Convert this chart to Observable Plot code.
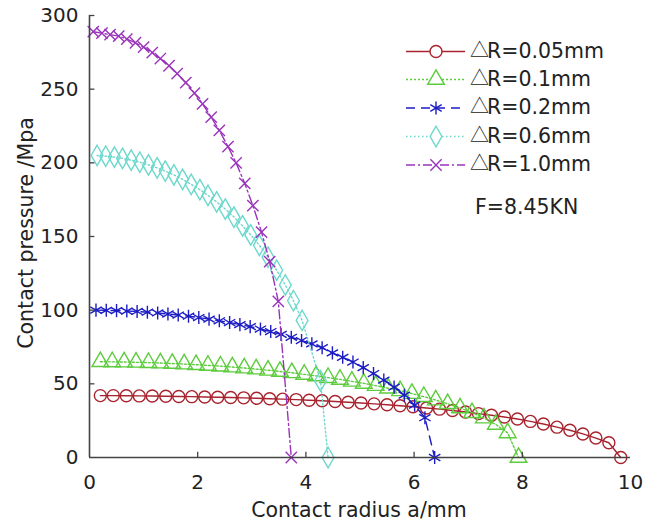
<!DOCTYPE html>
<html><head><meta charset="utf-8">
<script src="https://cdn.jsdelivr.net/npm/d3@7"></script>
<script src="https://cdn.jsdelivr.net/npm/@observablehq/plot@0.6"></script>
<style>body{margin:0;background:#fff} svg{font-family:"DejaVu Sans",sans-serif}</style>
</head><body><div id="chart"></div>
<script>
// ---- data ----
const seriesLabels = ["△R=0.05mm","△R=0.1mm","△R=0.2mm","△R=0.6mm","△R=1.0mm"];
const x005 = [0.20,0.44,0.68,0.92,1.16,1.41,1.65,1.89,2.13,2.37,2.61,2.85,3.09,3.33,3.57,3.82,4.06,4.30,4.54,4.78,5.02,5.26,5.50,5.74,5.98,6.23,6.47,6.71,6.95,7.19,7.43,7.67,7.91,8.15,8.39,8.64,8.88,9.12,9.36,9.60,9.82];
const y005 = [42.0,42.0,41.9,41.8,41.7,41.6,41.4,41.3,41.1,40.9,40.7,40.5,40.2,39.9,39.6,39.3,38.9,38.5,38.0,37.5,37.0,36.4,35.8,35.1,34.4,33.6,32.8,31.9,30.9,29.8,28.7,27.5,26.1,24.5,22.7,20.6,18.5,16.0,13.2,10.0,0];
const x01 = [0.20,0.42,0.64,0.86,1.09,1.31,1.53,1.75,1.97,2.19,2.42,2.64,2.86,3.08,3.30,3.52,3.74,3.97,4.19,4.41,4.63,4.85,5.07,5.29,5.52,5.74,5.96,6.18,6.40,6.62,6.85,7.07,7.29,7.51,7.73,7.93];
const y01 = [65.0,64.9,64.8,64.6,64.4,64.1,63.8,63.4,63.0,62.5,62.0,61.4,60.7,60.0,59.2,58.4,57.5,56.4,55.4,54.2,53.0,51.7,50.3,48.8,47.0,45.3,43.4,41.3,39.0,36.5,33.6,30.4,26.8,22.4,16.7,0];
const x02 = [0.12,0.31,0.50,0.69,0.88,1.07,1.26,1.45,1.64,1.83,2.02,2.21,2.40,2.59,2.78,2.97,3.16,3.35,3.54,3.73,3.92,4.11,4.30,4.49,4.68,4.87,5.06,5.25,5.44,5.63,5.82,6.01,6.20,6.38];
const y02 = [100.0,99.9,99.7,99.4,99.1,98.6,98.1,97.4,96.7,95.9,95.0,93.9,92.8,91.6,90.2,88.8,87.2,85.5,83.6,81.6,79.4,77.1,74.5,71.0,68.0,64.8,61.0,57.0,52.5,47.8,42.3,35.5,27.0,0];
const x06 = [0.14,0.30,0.46,0.61,0.77,0.93,1.09,1.25,1.40,1.56,1.72,1.88,2.04,2.19,2.35,2.51,2.67,2.83,2.98,3.14,3.30,3.46,3.62,3.77,3.93,4.27,4.41];
const y06 = [205.0,204.5,203.9,203.0,201.8,200.4,198.6,196.6,194.4,191.8,188.8,185.4,181.8,177.9,173.5,168.6,163.2,157.2,151.1,144.0,136.0,127.1,117.1,106.4,93.0,52.0,0];
const x10 = [0.07,0.23,0.38,0.54,0.69,0.85,1.00,1.16,1.31,1.47,1.62,1.78,1.94,2.09,2.25,2.40,2.56,2.71,2.87,3.02,3.18,3.33,3.49,3.73];
const y10 = [289,288,287,286,284,281.5,278.5,274.8,270.8,265.9,260.6,254.4,247.3,240,231,222,211,200,186,171,153,133,106,0];
const xTicks = [0,2,4,6,8,10];
const yTicks = [0,50,100,150,200,250,300];
const xTitle = "Contact radius a/mm";
const yTitle = "Contact pressure /Mpa";
const note = "F=8.45KN";

// ---- styles ----
const colors  = ["#a8232e","#5ccc3c","#1c1cc4","#6cd8cc","#9a33bb"];
const symbols = ["circle","triangle","asterisk","diamond","times"];
const dashes  = [null,"2,2","9,6","1.5,2.5","9,3,2,3"];
const radii   = [6,6.2,6.2,6.2,5.2];
const xsAll = [x005,x01,x02,x06,x10], ysAll = [y005,y01,y02,y06,y10];

const series = seriesLabels.map((label,k)=>xsAll[k].map((x,i)=>({x, y: ysAll[k][i], label})));

const marks = [];
series.forEach((d,k)=>{
  marks.push(Plot.line(d,{x:"x",y:"y",stroke:colors[k],strokeWidth:1.4,strokeDasharray:dashes[k]}));
  marks.push(Plot.dot(d,{x:"x",y:"y",symbol:()=>symbols[k],r:radii[k],stroke:colors[k],fill:"none",strokeWidth:1.4}));
});
marks.push(Plot.ruleX(xTicks.slice(1,-1),{y1:0,y2:3.6,stroke:"#444",strokeWidth:1.3}));
marks.push(Plot.ruleY(yTicks.slice(1),{x1:0,x2:0.1,stroke:"#444",strokeWidth:1.3}));
marks.push(Plot.ruleX([0],{stroke:"#444",strokeWidth:1.6}));
marks.push(Plot.ruleY([0],{stroke:"#444",strokeWidth:1.6}));
marks.push(Plot.axisX({ticks:xTicks,tickSize:0,tickPadding:17,label:null,fill:"#222"}));
marks.push(Plot.axisY({ticks:yTicks,tickSize:0,tickPadding:11,label:null,fill:"#222"}));

const chart = Plot.plot({
  width:665,height:521,
  marginLeft:89,marginRight:35,marginTop:15,marginBottom:64,
  x:{domain:[0,10]},
  y:{domain:[0,300]},
  style:{fontSize:"20px",fontFamily:"DejaVu Sans",background:"#fff",color:"#222",overflow:"visible"},
  marks
});
document.getElementById("chart").appendChild(chart);

// ---- titles and legend ----
const svg = d3.select(chart);
svg.append("text").attr("x",359).attr("y",511).attr("text-anchor","middle").attr("dominant-baseline","middle")
  .attr("font-size",20.5).attr("fill","#222").text(xTitle);
svg.append("text").attr("transform","translate(27,233) rotate(-90)").attr("text-anchor","middle").attr("dominant-baseline","middle")
  .attr("font-size",20.5).attr("fill","#222").text(yTitle);
const lg = svg.append("g").attr("text-anchor","start");
const legendY = [51.5,79.5,108,136.5,165];
const symMap = {circle:d3.symbolCircle,triangle:d3.symbolTriangle,asterisk:d3.symbolAsterisk,diamond:d3.symbolDiamond,times:d3.symbolTimes};
seriesLabels.forEach((label,k)=>{
  const y = legendY[k];
  lg.append("line").attr("x1",406).attr("x2",465).attr("y1",y).attr("y2",y)
    .attr("stroke",colors[k]).attr("stroke-width",1.4).attr("stroke-dasharray",dashes[k]);
  lg.append("path").attr("transform",`translate(436,${y})`)
    .attr("d",d3.symbol(symMap[symbols[k]],radii[k]*radii[k]*Math.PI)())
    .attr("fill","#fff").attr("stroke",colors[k]).attr("stroke-width",1.4);
  const t = lg.append("text").attr("x",471).attr("y",y).attr("dominant-baseline","middle").attr("text-anchor","start")
    .attr("font-size",20.5).attr("fill","#222");
  t.append("tspan").attr("font-family","'Noto Sans CJK SC'").attr("font-size",19).attr("dx",-1).text(label.slice(0,1));
  t.append("tspan").attr("dx",-2).text(label.slice(1));
});
svg.append("text").attr("x",475).attr("y",208).attr("dominant-baseline","middle").attr("text-anchor","start")
  .attr("font-size",20.5).attr("fill","#222").text(note);
</script></body></html>
